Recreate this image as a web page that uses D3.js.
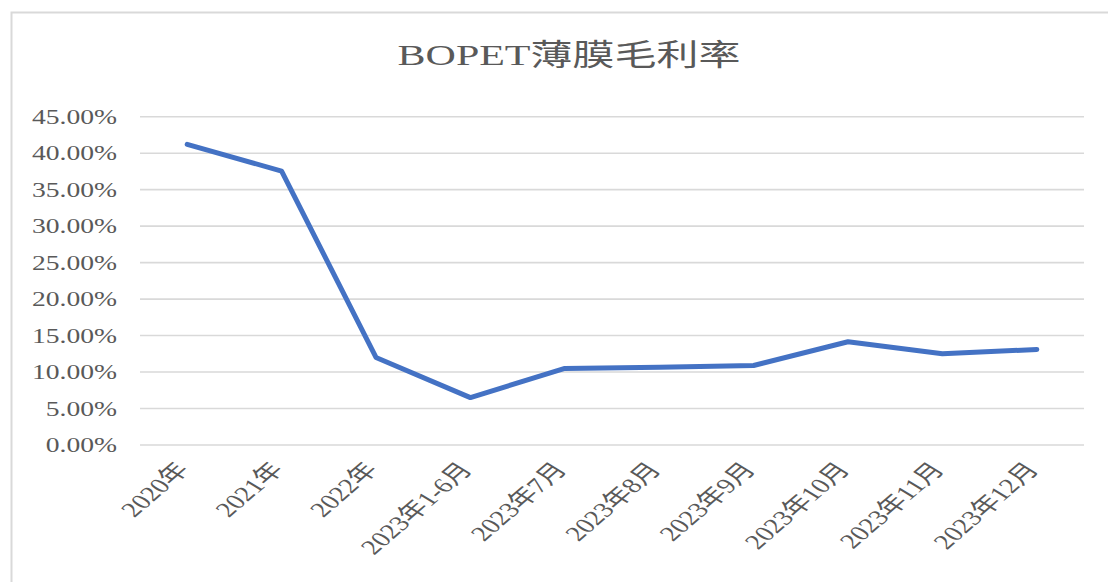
<!DOCTYPE html>
<html>
<head>
<meta charset="utf-8">
<script src="https://cdn.jsdelivr.net/npm/d3@7"></script>
<style>
  body { margin: 0; background: #fff; }
  svg { display: block; }
</style>
</head>
<body>
<div id="chart"></div>
<script>
// chart data
var categories = ['2020年', '2021年', '2022年', '2023年1-6月', '2023年7月', '2023年8月',
                  '2023年9月', '2023年10月', '2023年11月', '2023年12月'];
var margins = [41.2, 37.55, 12.0, 6.5, 10.5, 10.65, 10.9, 14.15, 12.5, 13.1];
var yTicks = [0, 5, 10, 15, 20, 25, 30, 35, 40, 45];
var title = 'BOPET薄膜毛利率';

var width = 1108;
var height = 582;
var stretch = 1.38;   // the picture is wide, text looks stretched
var textColor = '#595959';
var gridColor = '#d9d9d9';
var lineColor = '#4472c4';
var font = '"Liberation Serif", "Times New Roman", "Noto Sans CJK SC", serif';

var svg = d3.select('#chart').append('svg')
    .attr('width', width)
    .attr('height', height);

// outer frame
svg.append('rect')
    .attr('x', 11.5)
    .attr('y', 12.5)
    .attr('width', 1120)
    .attr('height', 600)
    .attr('fill', '#fff')
    .attr('stroke', gridColor)
    .attr('stroke-width', 2);

var xScale = d3.scalePoint()
    .domain(categories)
    .range([140, 1084])
    .padding(0.5);

var yScale = d3.scaleLinear()
    .domain([0, 45])
    .range([445, 116.7]);

// gridlines
svg.append('g')
    .selectAll('line')
    .data(yTicks)
    .enter()
    .append('line')
    .attr('x1', 140)
    .attr('x2', 1084)
    .attr('y1', function (d) { return yScale(d); })
    .attr('y2', function (d) { return yScale(d); })
    .attr('stroke', gridColor)
    .attr('stroke-width', 1.6);

// y labels
svg.append('g')
    .selectAll('text')
    .data(yTicks)
    .enter()
    .append('text')
    .attr('transform', function (d) {
        return 'translate(117,' + yScale(d) + ') scale(' + stretch + ',1)';
    })
    .attr('dy', '0.35em')
    .attr('text-anchor', 'end')
    .style('font', '20px ' + font)
    .attr('fill', textColor)
    .text(function (d) { return d.toFixed(2) + '%'; });

// x labels
svg.append('g')
    .selectAll('text')
    .data(categories)
    .enter()
    .append('text')
    .attr('transform', function (d) {
        return 'translate(' + (xScale(d) + 3) + ',470) scale(' + stretch + ',1) rotate(-50)';
    })
    .attr('text-anchor', 'end')
    .style('font', '21px ' + font)
    .attr('fill', textColor)
    .text(function (d) { return d; });

// the line
var line = d3.line()
    .x(function (d, i) { return xScale(categories[i]); })
    .y(function (d) { return yScale(d); });

svg.append('path')
    .datum(margins)
    .attr('d', line)
    .attr('fill', 'none')
    .attr('stroke', lineColor)
    .attr('stroke-width', 5)
    .attr('stroke-linecap', 'round')
    .attr('stroke-linejoin', 'round');

// title
svg.append('text')
    .attr('transform', 'translate(569,65) scale(' + 1.4 + ',1)')
    .attr('text-anchor', 'middle')
    .style('font', '30px ' + font)
    .attr('fill', textColor)
    .text(title);
</script>
</body>
</html>
